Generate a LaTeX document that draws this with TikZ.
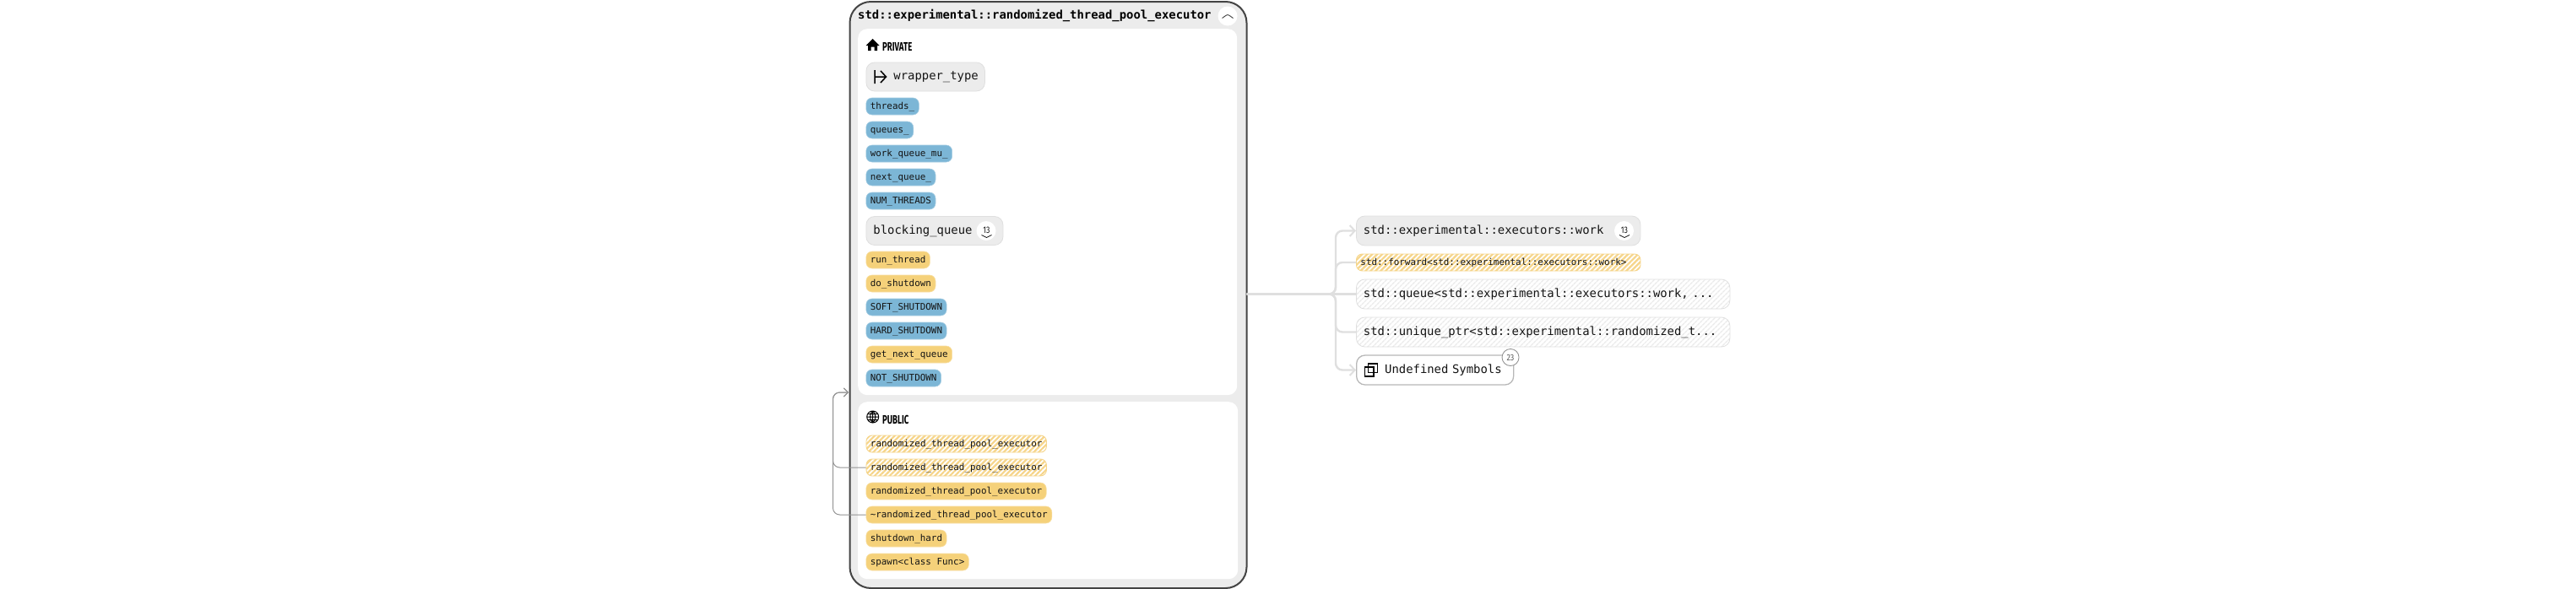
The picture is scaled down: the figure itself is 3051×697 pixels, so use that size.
\documentclass[tikz,border=0pt]{standalone}
\usepackage{fontspec}
\usepackage{graphicx}
\setmonofont{DejaVu Sans Mono}
\setsansfont{Fira Sans}
\usetikzlibrary{arrows.meta,patterns.meta,calc}
\definecolor{panelgray}{HTML}{ECECEC}
\definecolor{edgegray}{HTML}{DFDFDF}
\definecolor{outerline}{HTML}{444444}
\definecolor{pillblue}{HTML}{7CB6D6}
\definecolor{pillorange}{HTML}{F5D17A}
\definecolor{inktext}{HTML}{141414}
\definecolor{hatchorange}{HTML}{F6D58A}
\definecolor{hatchgray}{HTML}{EBEBEB}
\definecolor{linkgray}{HTML}{949494}
\tikzset{
  x=1pt,y=-1pt,
  pill/.style={anchor=west,rounded corners=7pt,minimum height=20pt,inner xsep=5pt,inner ysep=0pt,
    text height=8pt,text depth=2pt,text=inktext,font=\ttfamily\fontsize{10.9pt}{12pt}\selectfont},
  fieldpill/.style={pill,fill=pillblue,draw=pillblue!70!white,line width=.6pt},
  funcpill/.style={pill,fill=pillorange,draw=pillorange!70!white,line width=.6pt},
  hatchpill/.style={pill,preaction={fill=white},pattern={Lines[angle=45,distance=4.2pt,line width=2.2pt]},
    pattern color=hatchorange,draw=hatchorange,line width=.9pt},
  bigbox/.style={anchor=west,rounded corners=10pt,inner xsep=8.5pt,inner ysep=0pt,
    text height=10pt,text depth=3pt,align=left,text=inktext,
    font=\ttfamily\fontsize{13.9pt}{15pt}\selectfont},
  graybox/.style={bigbox,fill=panelgray,draw=edgegray,line width=.8pt},
  hatchbox/.style={bigbox,preaction={fill=white},pattern={Lines[angle=45,distance=4pt,line width=1.6pt]},
    pattern color=hatchgray,draw=edgegray,line width=.8pt},
  panel/.style={fill=white,rounded corners=11pt,draw=none,inner sep=0pt},
  badge/.style={circle,fill=white,inner sep=0pt,minimum size=23pt},
  headlabel/.style={anchor=west,inner sep=0pt,text=black,font=\sffamily\bfseries\fontsize{14.5pt}{16pt}\selectfont},
  thick edge/.style={draw=edgegray,line width=2.4pt,rounded corners=8pt},
  thin link/.style={draw=linkgray,line width=1pt,rounded corners=8pt},
}
\begin{document}
\begin{tikzpicture}
\useasboundingbox (0,0) rectangle (3051,697);
% outer box and panels
\node[anchor=north west,inner sep=0pt,minimum width=470pt,minimum height=695pt,rounded corners=25pt,
  fill=panelgray,draw=outerline,line width=2pt] (outer) at (1005.5,1) {};
\node[panel,anchor=north west,minimum width=449pt,minimum height=434pt] (private) at (1016,34) {};
\node[panel,anchor=north west,minimum width=450pt,minimum height=210pt] (public) at (1016,476) {};
\node[anchor=west,inner sep=0pt,text=black,font=\ttfamily\bfseries\fontsize{13.9pt}{15pt}\selectfont] (title) at (1016,18.5)
  {std::experimental::randomized\_thread\_pool\_executor};
\node[badge] (collapse) at (1454,19) {};
\draw[black!75,line width=.9pt] (1447.5,21.5) -- (1452,18.3) .. controls (1453.5,17.3) and (1454.5,17.3) .. (1456,18.3) -- (1460.5,21.5);
% private header
\fill[black] (1033.5,46) -- (1041.5,54) -- (1039,54) -- (1039,60) -- (1035.5,60) -- (1035.5,55.5) -- (1031.5,55.5) -- (1031.5,60) -- (1028,60) -- (1028,54) -- (1025.5,54) -- cycle;
\node[headlabel] (privlabel) at (1045,55) {\scalebox{0.66}[1]{PRIVATE}};
% private members
\node[graybox,minimum width=140.5pt,minimum height=34pt,text width=123.5pt] (wrapper) at (1025.5,91) {\hspace*{24pt}wrapper\_type};
\draw[black,line width=1.5pt] (1036,83) -- (1036,99) (1036,91) -- (1049,91) (1043,84) -- (1049.5,91) -- (1043,98);
\node[fieldpill] (threads) at (1025.5,126) {threads\_};
\node[fieldpill] (queues) at (1025.5,154) {queues\_};
\node[fieldpill] (workmu) at (1025.5,182) {work\_queue\_mu\_};
\node[fieldpill] (nextq) at (1025.5,210) {next\_queue\_};
\node[fieldpill] (numthreads) at (1025.5,238) {NUM\_THREADS};
\node[graybox,minimum width=162pt,minimum height=34pt,text width=145pt] (blocking) at (1025.5,273.5) {blocking\_queue};
\node[badge] (blockbadge) at (1168,273.5) {};
\node[inner sep=0pt,text=inktext,font=\sffamily\fontsize{11pt}{12pt}\selectfont] (blockcount) at (1168.5,273) {\scalebox{0.8}[1]{13}};
\draw[inktext,line width=.8pt] (1162.5,278.5) -- (1168.5,281.5) -- (1174.5,278.5);
\node[funcpill] (runthread) at (1025.5,308) {run\_thread};
\node[funcpill] (doshutdown) at (1025.5,336) {do\_shutdown};
\node[fieldpill] (soft) at (1025.5,364) {SOFT\_SHUTDOWN};
\node[fieldpill] (hard) at (1025.5,392) {HARD\_SHUTDOWN};
\node[funcpill] (getnext) at (1025.5,420) {get\_next\_queue};
\node[fieldpill] (notshut) at (1025.5,448) {NOT\_SHUTDOWN};
% public header
\draw[black,line width=1pt] (1033.7,494) circle[radius=7]
  (1033.7,487) .. controls (1029.5,490) and (1029.5,498) .. (1033.7,501)
  (1033.7,487) .. controls (1037.9,490) and (1037.9,498) .. (1033.7,501)
  (1033.7,487) -- (1033.7,501) (1026.7,494) -- (1040.7,494)
  (1028,490.5) -- (1039.4,490.5) (1028,497.5) -- (1039.4,497.5);
\node[headlabel] (publabel) at (1045,497) {\scalebox{0.66}[1]{PUBLIC}};
% public members
\node[hatchpill] (ctorone) at (1025.5,526) {randomized\_thread\_pool\_executor};
\node[hatchpill] (ctortwo) at (1025.5,554) {randomized\_thread\_pool\_executor};
\node[funcpill] (ctorthree) at (1025.5,582) {randomized\_thread\_pool\_executor};
\node[funcpill] (dtor) at (1025.5,610) {\textasciitilde randomized\_thread\_pool\_executor};
\node[funcpill] (shuthard) at (1025.5,638) {shutdown\_hard};
\node[funcpill] (spawn) at (1025.5,666) {spawn<class Func>};
% right column
\node[graybox,minimum width=336.5pt,minimum height=35pt,text width=319.5pt] (work) at (1606,273.5) {std::experimental::executors::work};
\node[badge] (workbadge) at (1923.5,273.5) {};
\node[inner sep=0pt,text=inktext,font=\sffamily\fontsize{11pt}{12pt}\selectfont] (workcount) at (1924,273) {\scalebox{0.8}[1]{13}};
\draw[inktext,line width=.8pt] (1918,278.5) -- (1924,281.5) -- (1930,278.5);
\node[hatchpill,minimum width=336.5pt,minimum height=20pt,text width=326.5pt,align=left] (forward) at (1606,311) {std::forward<std::experimental::executors::work>};
\node[hatchbox,minimum width=442.5pt,minimum height=35pt,text width=425.5pt] (queue) at (1606,348.5) {std::queue<std::experimental::executors::work, ...};
\node[hatchbox,minimum width=442.5pt,minimum height=35pt,text width=425.5pt] (unique) at (1606,393.5) {std::unique\_ptr<std::experimental::randomized\_t...};
\node[bigbox,fill=white,draw=black!28,line width=1.3pt,minimum width=186pt,minimum height=35pt,text width=169pt] (undefined) at (1606,438.5) {\hspace*{25pt}Undefined Symbols};
\draw[black,line width=1.5pt] (1620.5,431) rectangle (1631.5,441.5) (1616.5,435) rectangle (1627,446);
\node[circle,fill=white,draw=black!42,line width=.9pt,minimum size=20pt,inner sep=0pt,text=black!65,font=\sffamily\fontsize{10.5pt}{12pt}\selectfont] (undefcount) at (1789,423.5) {\scalebox{0.85}[1]{23}};
% connectors
\coordinate (trunk) at (1476.5,348.5);
\draw[thick edge,-{Straight Barb[length=6pt,width=13pt,line width=2pt]}] (trunk) -| ([xshift=-24pt]work.west) -- (work.west);
\draw[thick edge] (trunk) -| ([xshift=-24pt]forward.west) -- (forward.west);
\draw[thick edge] (trunk) -- (queue.west);
\draw[thick edge] (trunk) -| ([xshift=-24pt]unique.west) -- (unique.west);
\draw[thick edge,-{Straight Barb[length=6pt,width=13pt,line width=2pt]}] (trunk) -| ([xshift=-24pt]undefined.west) -- (undefined.west);
\coordinate (backtip) at (1005,465);
\draw[thin link,-{Straight Barb[length=5pt,width=10pt,line width=1pt]}] (ctortwo.west) -| ([xshift=-18.5pt]backtip) -- (backtip);
\draw[thin link,-{Straight Barb[length=5pt,width=10pt,line width=1pt]}] (dtor.west) -| ([xshift=-18.5pt]backtip) -- (backtip);
\end{tikzpicture}
\end{document}
